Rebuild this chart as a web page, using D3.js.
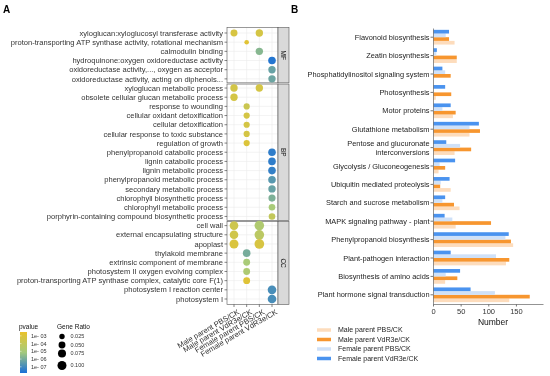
<!DOCTYPE html>
<html>
<head>
<meta charset="utf-8">
<script src="https://cdn.jsdelivr.net/npm/d3@7"></script>
<style>
  body { margin: 0; background: #fff; }
  svg { font-family: 'Liberation Sans', Arial, sans-serif; will-change: transform; }
</style>
</head>
<body>
<svg id="chart" width="550" height="376"></svg>
<script>
// ---- panel A : GO enrichment dot plot ----
const GO_TERMS = [
  'xyloglucan:xyloglucosyl transferase activity',
  'proton-transporting ATP synthase activity, rotational mechanism',
  'calmodulin binding',
  'hydroquinone:oxygen oxidoreductase activity',
  'oxidoreductase activity,..., oxygen as acceptor',
  'oxidoreductase activity, acting on diphenols...',
  'xyloglucan metabolic process',
  'obsolete cellular glucan metabolic process',
  'response to wounding',
  'cellular oxidant detoxification',
  'cellular detoxification',
  'cellular response to toxic substance',
  'regulation of growth',
  'phenylpropanoid catabolic process',
  'lignin catabolic process',
  'lignin metabolic process',
  'phenylpropanoid metabolic process',
  'secondary metabolic process',
  'chlorophyll biosynthetic process',
  'chlorophyll metabolic process',
  'porphyrin-containing compound biosynthetic process',
  'cell wall',
  'external encapsulating structure',
  'apoplast',
  'thylakoid membrane',
  'extrinsic component of membrane',
  'photosystem II oxygen evolving complex',
  'proton-transporting ATP synthase complex, catalytic core F(1)',
  'photosystem I reaction center',
  'photosystem I'
]
const GO_FACETS = ['MF', 'BP', 'CC']
const FACET_SIZES = [6, 15, 9]

const SAMPLES = [
  'Male parent PBS/CK',
  'Male parent VdR3e/CK',
  'Female parent PBS/CK',
  'Female parent VdR3e/CK'
]

// [term index, sample index, pvalue, gene ratio]
const DOTS = [
  [0, 0, 6.3e-4, 0.052], [0, 2, 5e-4, 0.06],
  [1, 1, 1.6e-3, 0.015],
  [2, 2, 2e-6, 0.06],
  [3, 3, 2.5e-8, 0.065],
  [4, 3, 5e-7, 0.06],
  [5, 3, 6.3e-7, 0.06],
  [6, 0, 4e-4, 0.06], [6, 2, 5e-4, 0.06],
  [7, 0, 5e-4, 0.06],
  [8, 1, 2e-4, 0.037],
  [9, 1, 5e-4, 0.037],
  [10, 1, 5e-4, 0.037],
  [11, 1, 5e-4, 0.037],
  [12, 1, 1e-3, 0.037],
  [13, 3, 4e-8, 0.065],
  [14, 3, 4e-8, 0.065],
  [15, 3, 5e-8, 0.065],
  [16, 3, 2.5e-7, 0.065],
  [17, 3, 5e-7, 0.06],
  [18, 3, 1.3e-6, 0.055],
  [19, 3, 1e-5, 0.045],
  [20, 3, 1e-4, 0.045],
  [21, 0, 2.5e-4, 0.09], [21, 2, 2e-5, 0.117],
  [22, 0, 3.2e-4, 0.09], [22, 2, 5e-5, 0.117],
  [23, 0, 8e-4, 0.1], [23, 2, 6.3e-4, 0.12],
  [24, 1, 1e-6, 0.065],
  [25, 1, 1e-5, 0.05],
  [26, 1, 1.6e-5, 0.05],
  [27, 1, 1.3e-3, 0.05],
  [28, 3, 1.3e-7, 0.09],
  [29, 3, 1.3e-7, 0.09]
]

const PV_TICKS = [1e-3, 1e-4, 1e-5, 1e-6, 1e-7]
const PV_LABELS = ['1e- 03', '1e- 04', '1e- 05', '1e- 06', '1e- 07']
const RATIO_TICKS = [0.025, 0.05, 0.075, 0.1]

// ---- panel B : KEGG pathway counts ----
const PATHWAYS = [
  'Flavonoid biosynthesis',
  'Zeatin biosynthesis',
  'Phosphatidylinositol signaling system',
  'Photosynthesis',
  'Motor proteins',
  'Glutathione metabolism',
  'Pentose and glucuronate\ninterconversions',
  'Glycolysis / Gluconeogenesis',
  'Ubiquitin mediated proteolysis',
  'Starch and sucrose metabolism',
  'MAPK signaling pathway - plant',
  'Phenylpropanoid biosynthesis',
  'Plant-pathogen interaction',
  'Biosynthesis of amino acids',
  'Plant hormone signal transduction'
]
const MALE_PBS = [39, 43, 0, 5, 36, 66, 39, 10, 32, 48, 41, 145, 132, 22, 138]
const MALE_VDR = [29, 43, 32, 33, 41, 85, 69, 22, 13, 38, 105, 141, 138, 44, 175]
const FEMALE_PBS = [23, 6, 22, 0, 17, 66, 49, 12, 14, 17, 35, 131, 114, 23, 112]
const FEMALE_VDR = [29, 7, 17, 22, 32, 83, 24, 40, 30, 22, 21, 137, 32, 49, 68]
const SERIES = SAMPLES
const SERIES_VALUES = [MALE_PBS, MALE_VDR, FEMALE_PBS, FEMALE_VDR]
const SERIES_COLORS = ['#fddcbc', '#f7962f', '#cfe1f8', '#4a93ef']
const NUM_TICKS = [0, 50, 100, 150]

const svg = d3.select('#chart')

// panel letters
svg.append('text').attr('x', 3).attr('y', 13).attr('font-size', 10).attr('font-weight', 'bold').text('A')
svg.append('text').attr('x', 291).attr('y', 13).attr('font-size', 10).attr('font-weight', 'bold').text('B')

// ---------- A ----------
const yA = d3.scalePoint().domain(GO_TERMS).range([33, 299])
const xA = d3.scalePoint().domain(SAMPLES).range([234, 272])
const step = yA.step()
const panelL = 227, panelR = 278, stripR = 289

const color = d3.scaleLinear()
  .domain([-7.8, -5.1, -2.5])
  .range(['#1a6fd8', '#a6cb7c', '#e9c22c'])
  .interpolate(d3.interpolateRgb)
const size = d3.scaleSqrt().domain([0.025, 0.1]).range([2.7, 4.5])

let start = 0
GO_FACETS.forEach((f, i) => {
  const terms = GO_TERMS.slice(start, start + FACET_SIZES[i])
  start += FACET_SIZES[i]
  const top = i === 0 ? yA(terms[0]) - 0.6 * step : yA(terms[0]) - step / 2 + 0.6
  const bottom = i === GO_FACETS.length - 1 ? yA(terms[terms.length - 1]) + 0.6 * step
    : yA(terms[terms.length - 1]) + step / 2 - 0.6
  const g = svg.append('g')
  g.append('rect').attr('x', panelL).attr('y', top).attr('width', panelR - panelL)
    .attr('height', bottom - top).attr('fill', '#fff')
  g.selectAll('.hg').data(terms).join('line')
    .attr('x1', panelL).attr('x2', panelR)
    .attr('y1', d => yA(d)).attr('y2', d => yA(d))
    .attr('stroke', '#ebebeb').attr('stroke-width', 0.6)
  g.selectAll('.vg').data(SAMPLES).join('line')
    .attr('x1', d => xA(d)).attr('x2', d => xA(d))
    .attr('y1', top).attr('y2', bottom)
    .attr('stroke', '#ebebeb').attr('stroke-width', 0.6)
  g.append('rect').attr('x', panelL).attr('y', top).attr('width', panelR - panelL)
    .attr('height', bottom - top).attr('fill', 'none').attr('stroke', '#555').attr('stroke-width', 0.6)
  // strip
  g.append('rect').attr('x', panelR).attr('y', top).attr('width', stripR - panelR)
    .attr('height', bottom - top).attr('fill', '#d9d9d9').attr('stroke', '#555').attr('stroke-width', 0.6)
  const cy = (top + bottom) / 2, cx = (panelR + stripR) / 2
  g.append('text').attr('transform', `translate(${cx},${cy}) rotate(90)`)
    .attr('text-anchor', 'middle').attr('dy', '0.35em')
    .attr('font-size', 6.5).attr('fill', '#1a1a1a').text(f)
})

// y axis A
const axA = svg.append('g')
axA.selectAll('line').data(GO_TERMS).join('line')
  .attr('x1', panelL - 2.5).attr('x2', panelL)
  .attr('y1', d => yA(d)).attr('y2', d => yA(d))
  .attr('stroke', '#333').attr('stroke-width', 0.6)
axA.selectAll('text').data(GO_TERMS).join('text')
  .attr('x', panelL - 4).attr('y', d => yA(d)).attr('dy', '0.35em')
  .attr('text-anchor', 'end').attr('font-size', 7.55).attr('fill', '#333')
  .text(d => d)

// x axis A
const bottomA = yA(GO_TERMS[GO_TERMS.length - 1]) + 0.6 * step
const axXA = svg.append('g')
axXA.selectAll('line').data(SAMPLES).join('line')
  .attr('x1', d => xA(d)).attr('x2', d => xA(d))
  .attr('y1', bottomA).attr('y2', bottomA + 2.5)
  .attr('stroke', '#333').attr('stroke-width', 0.6)
axXA.selectAll('text').data(SAMPLES).join('text')
  .attr('transform', d => `translate(${xA(d) + 3},${bottomA + 4}) rotate(-30)`)
  .attr('text-anchor', 'end').attr('dy', '0.75em')
  .attr('font-size', 7.6).attr('fill', '#333')
  .text(d => d)

// dots
svg.append('g').selectAll('circle').data(DOTS).join('circle')
  .attr('cx', d => xA(SAMPLES[d[1]]))
  .attr('cy', d => yA(GO_TERMS[d[0]]))
  .attr('r', d => size(d[3]))
  .attr('fill', d => color(Math.log10(d[2])))

// pvalue colour bar
const cb = svg.append('g')
cb.append('text').attr('x', 19).attr('y', 329).attr('font-size', 6.5).attr('fill', '#111').text('pvalue')
const cbY = d3.scaleLinear().domain([-2.5, -7.8]).range([332, 373])
const grad = svg.append('defs').append('linearGradient').attr('id', 'pvgrad')
  .attr('x1', 0).attr('x2', 0).attr('y1', 0).attr('y2', 1)
d3.range(0, 1.0001, 0.1).forEach(t => {
  grad.append('stop').attr('offset', t)
    .attr('stop-color', color(-2.5 + t * (-7.8 + 2.5)))
})
cb.append('rect').attr('x', 20).attr('y', 332).attr('width', 7).attr('height', 41).attr('fill', 'url(#pvgrad)')
cb.selectAll('text.l').data(PV_TICKS).join('text').attr('class', 'l')
  .attr('x', 31).attr('y', d => cbY(Math.log10(d))).attr('dy', '0.35em')
  .attr('font-size', 5.5).attr('fill', '#333')
  .text((d, i) => PV_LABELS[i])
cb.selectAll('line').data(PV_TICKS).join('line')
  .attr('x1', 20).attr('x2', 21.5).attr('y1', d => cbY(Math.log10(d))).attr('y2', d => cbY(Math.log10(d)))
  .attr('stroke', '#fff').attr('stroke-width', 0.5)

// gene ratio legend
const sl = svg.append('g')
sl.append('text').attr('x', 57).attr('y', 329).attr('font-size', 6.5).attr('fill', '#111').text('Gene Ratio')
const slY = [336.5, 345, 353.5, 365.5]
sl.selectAll('circle').data(RATIO_TICKS).join('circle')
  .attr('cx', 62).attr('cy', (d, i) => slY[i]).attr('r', d => size(d)).attr('fill', '#000')
sl.selectAll('text.l').data(RATIO_TICKS).join('text').attr('class', 'l')
  .attr('x', 70.5).attr('y', (d, i) => slY[i]).attr('dy', '0.35em')
  .attr('font-size', 5.5).attr('fill', '#333')
  .text(d => d3.format('.3f')(d))

// ---------- B ----------
const xB = d3.scaleLinear().domain([0, 199]).range([433, 543])
const yB = d3.scaleBand().domain(PATHWAYS).range([28, 304])
const inner = d3.scaleBand().domain([3, 2, 1, 0])
  .range([yB.bandwidth() * 0.1, yB.bandwidth() * 0.9])

const bars = svg.append('g')
SERIES_VALUES.forEach((vals, si) => {
  bars.append('g').selectAll('rect').data(vals).join('rect')
    .attr('x', xB(0))
    .attr('y', (d, i) => yB(PATHWAYS[i]) + inner(si))
    .attr('width', d => xB(d) - xB(0))
    .attr('height', inner.bandwidth())
    .attr('fill', SERIES_COLORS[si])
})

const axXB = svg.append('g').attr('transform', 'translate(0,304)')
  .call(d3.axisBottom(xB).tickValues(NUM_TICKS).tickSize(2.5).tickSizeOuter(0).tickPadding(2))
axXB.select('.domain').attr('stroke', '#777').attr('stroke-width', 0.8)
axXB.selectAll('.tick line').attr('stroke', '#777')
axXB.selectAll('.tick text').attr('font-size', 7.5).attr('fill', '#333')
  .attr('font-family', "'Liberation Sans', Arial, sans-serif")

const axYB = svg.append('g').attr('transform', `translate(${xB(0)},0)`)
  .call(d3.axisLeft(yB).tickSize(2.5).tickSizeOuter(0).tickFormat(''))
axYB.select('.domain').attr('stroke', '#777').attr('stroke-width', 0.8)
axYB.selectAll('.tick line').attr('stroke', '#777')

svg.append('g').selectAll('text').data(PATHWAYS).join('text')
  .attr('x', xB(0) - 3.5)
  .attr('y', d => yB(d) + yB.bandwidth() / 2)
  .attr('text-anchor', 'end').attr('font-size', 7.4).attr('fill', '#222')
  .each(function (d) {
    const lines = d.split('\n')
    d3.select(this).selectAll('tspan').data(lines).join('tspan')
      .attr('x', xB(0) - 3.5)
      .attr('dy', (l, i) => i === 0 ? `${0.35 - (lines.length - 1) * 0.6}em` : '1.2em')
      .text(l => l)
  })

svg.append('text').attr('x', 493).attr('y', 325).attr('text-anchor', 'middle')
  .attr('font-size', 8.5).attr('fill', '#111').text('Number')

// legend B
const lgB = svg.append('g')
const lgY = [330, 339.5, 349, 358.5]
lgB.selectAll('line').data(SERIES).join('line')
  .attr('x1', 317).attr('x2', 331)
  .attr('y1', (d, i) => lgY[i]).attr('y2', (d, i) => lgY[i])
  .attr('stroke', (d, i) => SERIES_COLORS[i]).attr('stroke-width', 3.5)
lgB.selectAll('text').data(SERIES).join('text')
  .attr('x', 338).attr('y', (d, i) => lgY[i]).attr('dy', '0.35em')
  .attr('font-size', 7).attr('fill', '#222')
  .text(d => d)
</script>
</body>
</html>
